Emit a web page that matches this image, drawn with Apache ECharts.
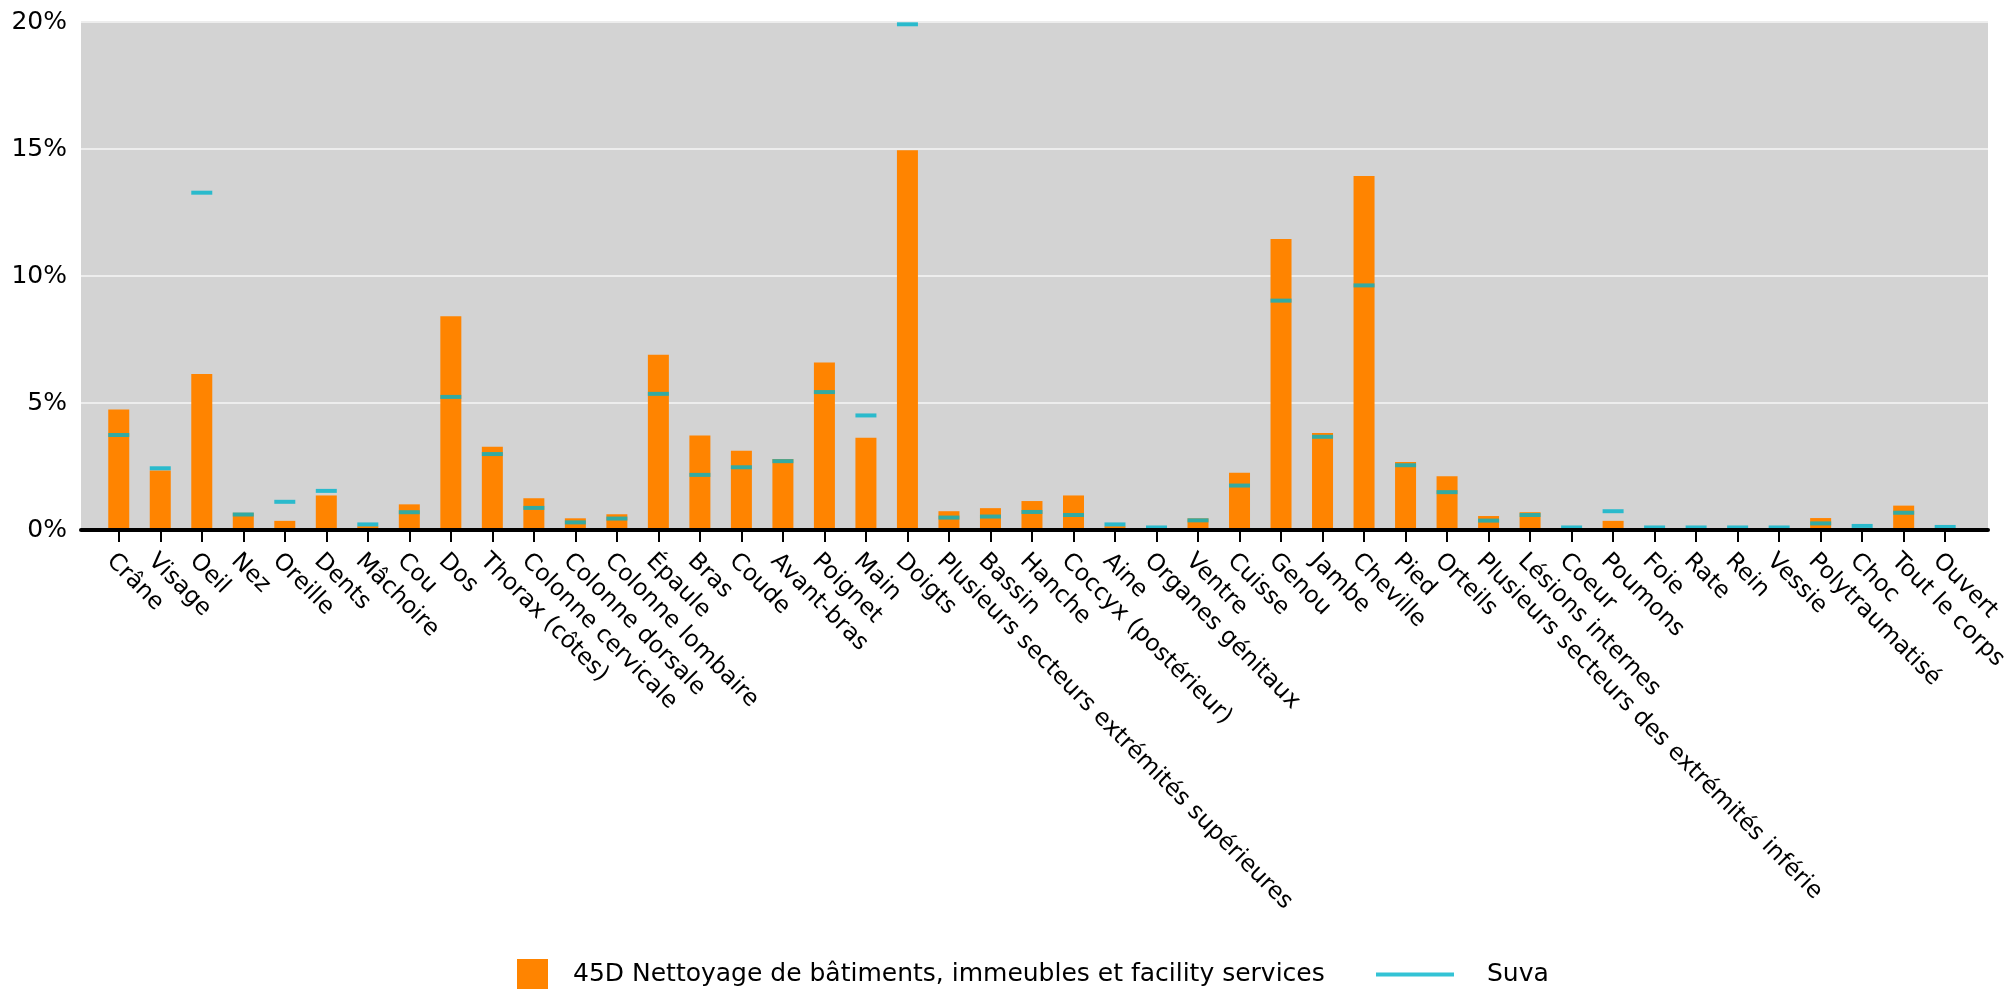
<!DOCTYPE html>
<html>
<head>
<meta charset="utf-8">
<script src="https://cdn.jsdelivr.net/npm/echarts@6/dist/echarts.min.js"></script>
<style>
  html, body { margin: 0; padding: 0; background: #ffffff; }
  #chart { width: 2011px; height: 991px; }
</style>
</head>
<body>
<div id="chart"></div>
<script>
const categories = [
  'Crâne', 'Visage', 'Oeil', 'Nez', 'Oreille', 'Dents', 'Mâchoire', 'Cou', 'Dos',
  'Thorax (côtes)', 'Colonne cervicale', 'Colonne dorsale', 'Colonne lombaire', 'Épaule',
  'Bras', 'Coude', 'Avant-bras', 'Poignet', 'Main', 'Doigts',
  'Plusieurs secteurs extrémités supérieures', 'Bassin', 'Hanche', 'Coccyx (postérieur)',
  'Aine', 'Organes génitaux', 'Ventre', 'Cuisse', 'Genou', 'Jambe', 'Cheville', 'Pied',
  'Orteils', 'Plusieurs secteurs des extrémités inférie', 'Lésions internes', 'Coeur',
  'Poumons', 'Foie', 'Rate', 'Rein', 'Vessie', 'Polytraumatisé', 'Choc', 'Tout le corps', 'Ouvert'
];

const sectorName = '45D Nettoyage de bâtiments, immeubles et facility services';
const sectorValues = [
  4.74, 2.34, 6.14, 0.68, 0.36, 1.36, 0.15, 1.01, 8.42,
  3.28, 1.25, 0.46, 0.62, 6.90,
  3.72, 3.12, 2.80, 6.59, 3.63, 14.95,
  0.74, 0.86, 1.14, 1.36,
  0.15, 0.02, 0.46, 2.25, 11.46, 3.82, 13.94, 2.68,
  2.12, 0.55, 0.70, 0,
  0.36, 0, 0, 0, 0, 0.47, 0, 0.96, 0
];

const suvaName = 'Suva';
const suvaValues = [
  3.74, 2.43, 13.28, 0.61, 1.11, 1.54, 0.22, 0.70, 5.24,
  2.99, 0.87, 0.30, 0.45, 5.36,
  2.17, 2.47, 2.71, 5.43, 4.51, 19.91,
  0.49, 0.53, 0.71, 0.59,
  0.22, 0.10, 0.38, 1.75, 9.03, 3.67, 9.63, 2.55,
  1.49, 0.37, 0.59, 0.10,
  0.74, 0.10, 0.10, 0.10, 0.10, 0.26, 0.16, 0.68, 0.12
];

const yMin = 0, yMax = 20, yStep = 5;

const FONT = 'DejaVu Sans';
const ORANGE = '#FF8400';
const CYAN = '#00B4CB';

const chart = echarts.init(document.getElementById('chart'), null, { renderer: 'canvas' });

chart.setOption({
  animation: false,
  backgroundColor: '#ffffff',
  textStyle: { fontFamily: FONT, color: '#000' },
  grid: [
    { left: 81, right: 23, top: 22, height: 508, show: true, backgroundColor: '#D3D3D3', borderWidth: 0 },
    { left: 98, right: 38, top: 22, height: 508 }
  ],
  xAxis: [
    {
      gridIndex: 0, type: 'value', min: 0, max: 1, z: 10,
      axisLine: { show: true, lineStyle: { color: '#000', width: 4 } },
      axisTick: { show: false }, axisLabel: { show: false }, splitLine: { show: false }
    },
    {
      gridIndex: 1, type: 'category', data: categories, boundaryGap: true,
      axisLine: { show: false },
      axisTick: { show: true, alignWithLabel: true, length: 12, lineStyle: { color: '#000', width: 2 } },
      axisLabel: { rotate: -45, interval: 0, margin: 19, fontSize: 23.5, fontFamily: FONT, color: '#000', verticalAlign: 'top' },
      splitLine: { show: false }
    }
  ],
  yAxis: [
    {
      gridIndex: 0, type: 'value', min: yMin, max: yMax, interval: yStep,
      axisLine: { show: false }, axisTick: { show: false },
      axisLabel: { formatter: '{value}%', fontSize: 25, fontFamily: FONT, color: '#000', margin: 14 },
      splitLine: { show: true, lineStyle: { color: '#EDEDED', width: 2 } }
    },
    {
      gridIndex: 1, type: 'value', min: yMin, max: yMax, interval: yStep, show: false,
      splitLine: { show: false }
    }
  ],
  legend: [
    {
      data: [{ name: sectorName, icon: 'rect' }],
      left: 517, top: 959, itemWidth: 31, itemHeight: 30, itemGap: 25,
      textStyle: { fontSize: 25, fontFamily: FONT, color: '#000', padding: [8, 0, 0, 20] },
      padding: 0
    },
    {
      data: [{ name: suvaName, icon: 'rect' }],
      left: 1376, top: 962, itemWidth: 78, itemHeight: 4, itemGap: 34,
      textStyle: { fontSize: 25, fontFamily: FONT, color: '#000', padding: [4, 0, 0, 28] },
      padding: 0
    }
  ],
  series: [
    {
      name: sectorName, type: 'bar', xAxisIndex: 1, yAxisIndex: 1,
      data: sectorValues, barWidth: 21,
      itemStyle: { color: ORANGE }
    },
    {
      name: suvaName, type: 'scatter', xAxisIndex: 1, yAxisIndex: 1,
      data: suvaValues, symbol: 'rect', symbolSize: [21, 4],
      itemStyle: { color: CYAN }, z: 5
    }
  ]
});
</script>
</body>
</html>
